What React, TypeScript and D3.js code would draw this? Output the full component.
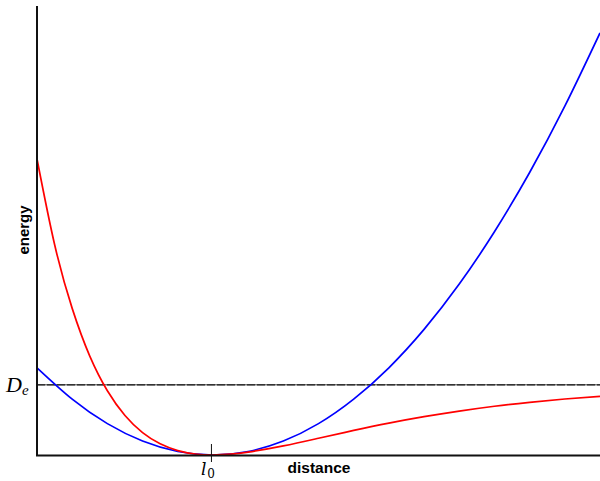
import React from "react";
import * as d3 from "d3";

// Interatomic distance samples (arbitrary units, equilibrium bond length l0 = 1)
const morseX = [0, 0.1, 0.2, 0.3, 0.4, 0.5, 0.6, 0.7, 0.8, 0.9, 1.0, 1.1, 1.2, 1.4, 1.6, 1.8, 2.0, 2.2, 2.4, 2.6, 2.8, 3.0, 3.2];
// Morse potential energy (in units of the dissociation energy De)
const morseY = [4.22, 3.0, 2.09, 1.41, 0.916, 0.563, 0.319, 0.159, 0.063, 0.014, 0, 0.0112, 0.0403, 0.13, 0.239, 0.35, 0.454, 0.546, 0.626, 0.695, 0.751, 0.798, 0.837];

const harmX = [0, 0.2, 0.4, 0.6, 0.8, 1.0, 1.2, 1.4, 1.6, 1.8, 2.0, 2.2, 2.4, 2.6, 2.8, 3.0, 3.2];
// Harmonic approximation energy
const harmY = [1.243, 0.796, 0.447, 0.199, 0.0497, 0, 0.0497, 0.199, 0.447, 0.796, 1.243, 1.79, 2.436, 3.182, 4.027, 4.972, 6.016];

const eqDistance = 1.0;
const dissociationEnergy = 1.0;

const W = 600;
const H = 481;

export default function App() {
  const x = d3.scaleLinear().domain([0, 3.2]).range([37, 600]);
  const y = d3.scaleLinear().domain([0, 6.4]).range([455, 6]);

  const line = d3
    .line<[number, number]>()
    .x((d) => x(d[0]))
    .y((d) => y(d[1]))
    .curve(d3.curveNatural);

  const morse = morseX.map((v, i) => [v, morseY[i]] as [number, number]);
  const harm = harmX.map((v, i) => [v, harmY[i]] as [number, number]);

  return (
    <svg
      width={W}
      height={H}
      style={{ position: "absolute", left: 0, top: 0, background: "#fff" }}
    >
      <defs>
        <clipPath id="plot">
          <rect x={37} y={0} width={563} height={456} />
        </clipPath>
      </defs>

      {/* dissociation energy level */}
      <line
        x1={x(0)}
        x2={600}
        y1={y(dissociationEnergy)}
        y2={y(dissociationEnergy)}
        stroke="#777"
        strokeWidth={1.5}
      />
      <line
        x1={x(0)}
        x2={600}
        y1={y(dissociationEnergy)}
        y2={y(dissociationEnergy)}
        stroke="#333"
        strokeWidth={1.5}
        strokeDasharray="8 2"
      />

      <g clipPath="url(#plot)">
        <path d={line(harm) ?? ""} fill="none" stroke="#0000ff" strokeWidth={1.7} />
        <path d={line(morse) ?? ""} fill="none" stroke="#ff0000" strokeWidth={1.7} />
      </g>

      {/* axes */}
      <line x1={37} x2={37} y1={6} y2={456} stroke="#111" strokeWidth={2} />
      <line x1={36} x2={600} y1={455.5} y2={455.5} stroke="#111" strokeWidth={2} />

      {/* equilibrium distance tick */}
      <line
        x1={x(eqDistance) - 1.5}
        x2={x(eqDistance) - 1.5}
        y1={444}
        y2={462}
        stroke="#111"
        strokeWidth={1}
      />

      <text
        x={x(eqDistance) - 5}
        y={475}
        fontFamily="'DejaVu Serif', 'Liberation Serif', serif"
        fontStyle="italic"
        fontSize={17}
        textAnchor="middle"
      >
        l
        <tspan fontStyle="normal" fontSize={12} dx={1} dy={3}>
          0
        </tspan>
      </text>

      <text
        x={6}
        y={392}
        fontFamily="'Liberation Serif', 'DejaVu Serif', serif"
        fontStyle="italic"
        fontSize={22}
      >
        D
        <tspan fontSize={15} dy={3}>
          e
        </tspan>
      </text>

      <text
        x={319}
        y={473}
        fontFamily="'Liberation Sans', Arial, sans-serif"
        fontWeight="bold"
        fontSize={15.5}
        textAnchor="middle"
      >
        distance
      </text>

      <text
        transform="translate(29,230) rotate(-90)"
        fontFamily="'Liberation Sans', Arial, sans-serif"
        fontWeight="bold"
        fontSize={15}
        textAnchor="middle"
      >
        energy
      </text>
    </svg>
  );
}
